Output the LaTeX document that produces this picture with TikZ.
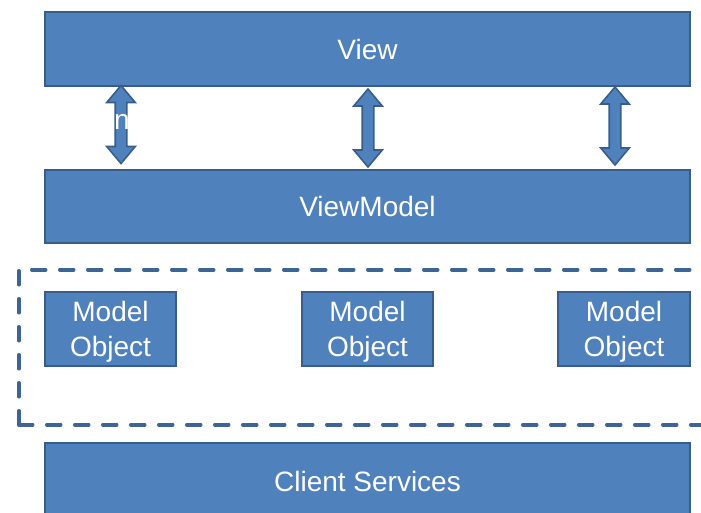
\documentclass[tikz,border=0pt]{standalone}
\usepackage{fontspec}
\setmainfont{Liberation Sans}
\usetikzlibrary{shapes.arrows}
\definecolor{boxfill}{HTML}{4F81BD}
\definecolor{boxline}{HTML}{385D8A}
\definecolor{dashline}{HTML}{3C6494}
\tikzset{
  layer/.style={draw=boxline, line width=1.8pt, fill=boxfill, text=white,
    font=\fontsize{28}{34}\selectfont, align=center, inner sep=0pt},
  ltext/.style={text=white, font=\fontsize{28}{35}\selectfont, align=center, inner sep=0pt},
  dblarrow/.style={double arrow, draw=boxline, line width=1.6pt, fill=boxfill,
    rotate=90, inner xsep=0pt, inner ysep=5pt, minimum width=27pt,
    double arrow head extend=8.5pt, double arrow tip angle=80, minimum height=78pt},
  group/.style={draw=dashline, line width=3.5pt, dash pattern=on 14pt off 14pt, line cap=round}
}
\begin{document}
\begin{tikzpicture}[x=1pt,y=-1pt]
\useasboundingbox (0,0) rectangle (701,512);
\node[layer, minimum width=645pt, minimum height=74pt] (view) at (367.5,49) {View};
\node[layer, minimum width=645pt, minimum height=73pt] (vm) at (367.5,206.5) {ViewModel};
\node[group, minimum width=720pt, minimum height=155pt, anchor=north west, inner sep=0pt] (grp) at (17,268) {};
\node[layer, minimum width=131pt, minimum height=74pt] (m1) at (110.5,329) {};
\node[layer, minimum width=131pt, minimum height=74pt] (m2) at (367.5,329) {};
\node[layer, minimum width=132pt, minimum height=74pt] (m3) at (624,329) {};
\node[ltext] (t1) at ([yshift=-3pt]m1.center) {Model\\Object};
\node[ltext] (t2) at ([yshift=-3pt]m2.center) {Model\\Object};
\node[ltext] (t3) at ([yshift=-3pt]m3.center) {Model\\Object};
\node[layer, minimum width=645pt, minimum height=76pt] (cs) at (367.5,481) {Client Services};
\node[dblarrow] (a1) at (121,124.5) {};
\node[dblarrow] (a2) at (368,128) {};
\node[dblarrow] (a3) at (615,126) {};
\node[text=white, font=\fontsize{28}{34}\selectfont, inner sep=0pt] (n) at (122,122) {n};
\end{tikzpicture}
\end{document}
